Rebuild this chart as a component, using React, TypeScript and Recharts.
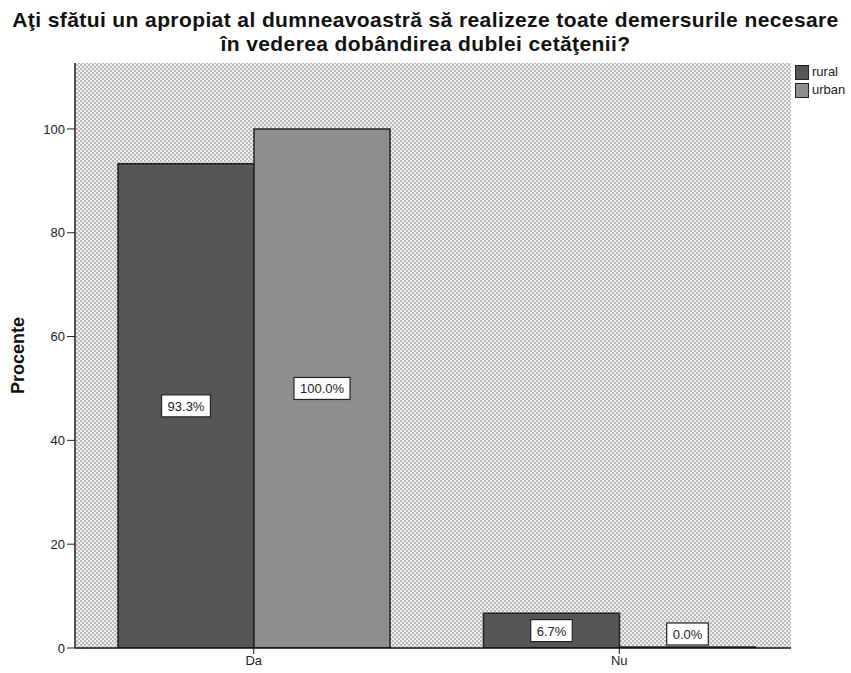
import React from 'react';
import {
  BarChart, Bar, XAxis, YAxis, CartesianGrid, LabelList
} from 'recharts';

// answers on the x axis
const answers = ['Da', 'Nu'];
// percentages per residence area
const rural = [93.3, 6.7];
const urban = [100.0, 0.0];
const yTicks = [0, 20, 40, 60, 80, 100];

const data = answers.map((a, i) => ({ name: a, rural: rural[i], urban: urban[i] }));

const FONT = '"Liberation Sans", Arial, sans-serif';
const PLOT_BOTTOM = 648;

// rough Arial widths (em) for the label characters
const charW = (c: string) => (c === '.' ? 0.278 : c === '%' ? 0.889 : 0.556);

const BoxLabel = (props: any) => {
  const { x, y, width, height, value } = props;
  const text = Number(value).toFixed(1) + '%';
  const tw = text.split('').reduce((s, c) => s + charW(c) * 13, 0);
  const bw = tw + 12;
  const bh = 22;
  const cx = Number(x) + Number(width) / 2;
  let cy = Number(y) + Number(height) / 2;
  if (cy > PLOT_BOTTOM - 14) cy = PLOT_BOTTOM - 14;
  return (
    <g>
      <rect x={cx - bw / 2} y={cy - bh / 2} width={bw} height={bh} fill="#fff" stroke="#222" strokeWidth={1.2} />
      <text x={cx} y={cy + 5} textAnchor="middle" fontSize={13} fontFamily={FONT} fill="#222">{text}</text>
    </g>
  );
};

const App: React.FC = () => {
  return (
    <div style={{ position: 'absolute', left: 0, top: 0, width: 851, height: 673, background: '#fff', fontFamily: FONT }}>
      <div style={{ position: 'absolute', left: 0, top: 7, width: 851, textAlign: 'center', fontWeight: 'bold', fontSize: 21, lineHeight: '25px', letterSpacing: 0.4, color: '#111', whiteSpace: 'nowrap' }}>
        <div>Aţi sfătui un apropiat al dumneavoastră să realizeze toate demersurile necesare</div>
        <div style={{ marginTop: -1 }}>în vederea dobândirea dublei cetăţenii?</div>
      </div>
      <div style={{ position: 'absolute', left: 0, top: 0 }}>
        <BarChart
          width={851}
          height={673}
          data={data}
          margin={{ top: 63, right: 60, bottom: 0, left: 0 }}
          barGap={0}
          barSize={136}
        >
          <defs>
            <pattern id="hatch" width="4" height="4" patternUnits="userSpaceOnUse">
              <rect width="4" height="4" fill="#f0f0f0" />
              <rect x="0" y="0" width="2" height="2" fill="#bababa" />
              <rect x="2" y="2" width="2" height="2" fill="#bababa" />
            </pattern>
          </defs>
          <CartesianGrid horizontal={false} vertical={false} fill="url(#hatch)" fillOpacity={1} />
          <XAxis
            dataKey="name"
            height={25}
            padding={{ left: -4, right: -11 }}
            axisLine={{ stroke: '#111', strokeWidth: 1.5 }}
            tickLine={{ stroke: '#111' }}
            tickSize={6}
            tick={{ fontSize: 13, fill: '#222', fontFamily: FONT }}
          />
          <XAxis
            xAxisId="top"
            dataKey="name"
            orientation="top"
            height={0}
            tick={false}
            tickLine={false}
            axisLine={{ stroke: '#222', strokeWidth: 1.2 }}
          />
          <YAxis
            width={75}
            domain={[0, 112.7]}
            ticks={yTicks}
            allowDataOverflow
            axisLine={{ stroke: '#222', strokeWidth: 1.5 }}
            tickLine={{ stroke: '#222' }}
            tickSize={8}
            tick={{ fontSize: 13, fill: '#222', fontFamily: FONT }}
            label={{ value: 'Procente', angle: -90, position: 'center', dx: -20, style: { fontSize: 18, fontWeight: 'bold', fill: '#111', fontFamily: FONT } }}
          />
          <YAxis
            yAxisId="r"
            orientation="right"
            width={0}
            tick={false}
            tickLine={false}
            axisLine={{ stroke: '#222', strokeWidth: 1.2 }}
          />
          <Bar dataKey="rural" fill="#565656" stroke="#222" strokeWidth={1.5} minPointSize={1} isAnimationActive={false}>
            <LabelList dataKey="rural" content={BoxLabel} />
          </Bar>
          <Bar dataKey="urban" fill="#8f8f8f" stroke="#222" strokeWidth={1.5} minPointSize={1} isAnimationActive={false}>
            <LabelList dataKey="urban" content={BoxLabel} />
          </Bar>
        </BarChart>
      </div>
      <div style={{ position: 'absolute', left: 795, top: 63, fontSize: 13, color: '#222', lineHeight: '18px' }}>
        <div style={{ display: 'flex', alignItems: 'center' }}>
          <span style={{ display: 'inline-block', width: 12, height: 13, background: '#565656', border: '1px solid #222', marginRight: 3 }} />
          rural
        </div>
        <div style={{ display: 'flex', alignItems: 'center' }}>
          <span style={{ display: 'inline-block', width: 12, height: 13, background: '#8f8f8f', border: '1px solid #222', marginRight: 3 }} />
          urban
        </div>
      </div>
    </div>
  );
};

export default App;
